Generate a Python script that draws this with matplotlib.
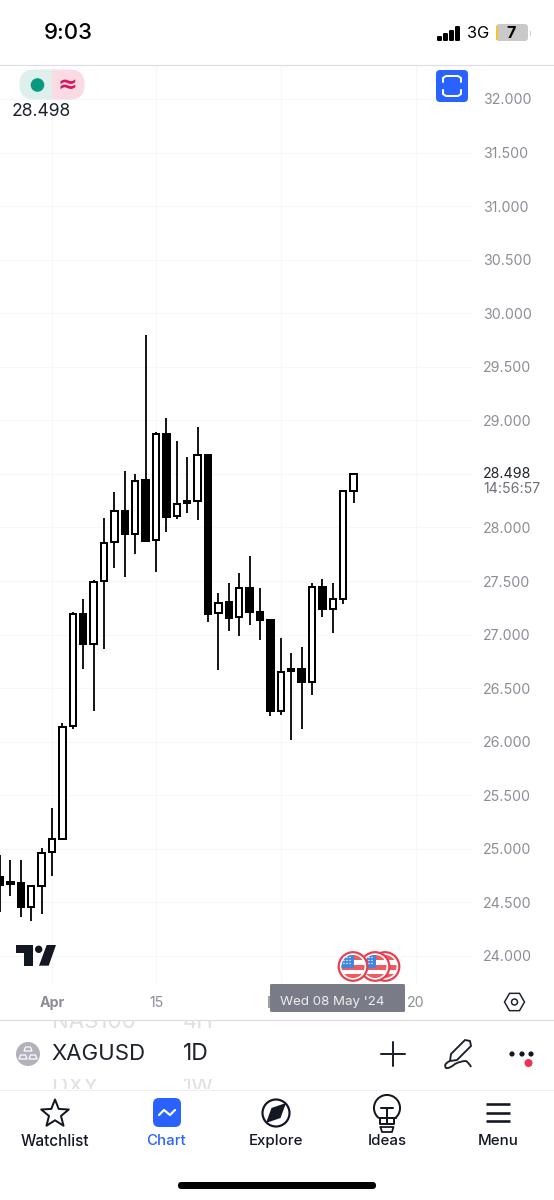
import numpy as np
import matplotlib
matplotlib.use("Agg")
import matplotlib.pyplot as plt
from matplotlib.patches import Circle, Rectangle, FancyBboxPatch, Polygon, PathPatch, Arc
from matplotlib.path import Path

plt.rcParams['font.family'] = ['Inter', 'DejaVu Sans']

# Candles, oldest first (XAGUSD daily)
opens = [24.735, 24.675, 24.679, 24.460, 24.656, 24.968, 25.092, 26.147, 27.190, 26.912,
         27.498, 27.862, 28.157, 27.942, 28.441, 27.881, 28.873, 28.105, 28.225, 28.245,
         28.680, 27.199, 27.302, 27.162, 27.432, 27.214, 27.136, 26.290, 26.660, 26.676,
         26.561, 27.445, 27.242, 27.335, 28.344]
highs = [24.943, 24.893, 24.896, 24.663, 25.008, 25.384, 26.172, 27.210, 27.333, 27.510,
         28.086, 28.329, 28.525, 28.497, 29.800, 28.889, 29.019, 28.803, 28.661, 28.941,
         28.680, 27.386, 27.485, 27.578, 27.734, 27.432, 27.136, 26.971, 26.826, 26.882,
         27.485, 27.522, 27.485, 28.338, 28.498]
lows = [24.408, 24.557, 24.367, 24.330, 24.395, 24.750, 25.083, 26.119, 26.682, 26.290,
        26.869, 27.625, 27.538, 27.755, 27.862, 27.587, 27.955, 28.077, 28.138, 28.070,
        27.121, 26.670, 27.037, 26.987, 27.087, 26.950, 26.243, 26.253, 26.016, 26.122,
        26.436, 27.165, 27.012, 27.289, 28.231]
closes = [24.663, 24.690, 24.460, 24.651, 24.962, 25.089, 26.140, 27.190, 26.912, 27.494,
          27.858, 28.157, 27.939, 28.437, 27.877, 28.870, 28.101, 28.219, 28.245, 28.677,
          27.195, 27.298, 27.158, 27.432, 27.214, 27.136, 26.290, 26.654, 26.680, 26.558,
          27.445, 27.239, 27.330, 28.338, 28.498]

price_ticks = [24.0, 24.5, 25.0, 25.5, 26.0, 26.5, 27.0, 27.5, 28.0, 28.5, 29.0, 29.5, 30.0, 30.5, 31.0, 31.5, 32.0]
price_labels = ['24.000', '24.500', '25.000', '25.500', '26.000', '26.500', '27.000', '27.500', '28.000', '',
                '29.000', '29.500', '30.000', '30.500', '31.000', '31.500', '32.000']
date_ticks = [5, 15, 40]
date_labels = ['Apr', '15', '20']
hidden_month_tick = 27
last_price = 28.498
countdown = '14:56:57'
cursor_date = "Wed 08 May '24"
symbol = 'XAGUSD'
interval = '1D'
tabs = ['Watchlist', 'Chart', 'Explore', 'Ideas', 'Menu']

W, H = 554, 1200
fig = plt.figure(figsize=(W/100, H/100), dpi=100, facecolor='white')
px = 0.72
GRID = '#f7f7f9'
GRAY = '#8b8d96'
DARK = '#1e222d'

# ---------- price chart ----------
top, bottom, right = 66, 985, 472
ax = fig.add_axes([0, 1-bottom/H, right/W, (bottom-top)/H])
ax.set_xlim(0, right/10.4)
ax.set_ylim(32-(bottom-99)/107.125, 32+(99-top)/107.125)
for s in ax.spines.values():
    s.set_visible(False)
ax.set_axisbelow(True)
ax.grid(True, color=GRID, lw=1.1*px)
ax.axvline(hidden_month_tick, color=GRID, lw=1.1*px, zorder=0)
ax.yaxis.tick_right()
ax.set_yticks(price_ticks, price_labels, fontsize=10.2, color=GRAY)
ax.set_xticks(date_ticks, date_labels, fontsize=10.2, color=GRAY)
ax.get_xticklabels()[0].set_fontweight('bold')
ax.tick_params(axis='y', length=0, pad=8)
ax.tick_params(axis='x', length=0, pad=8)

idx = np.arange(len(opens))
o, h, l, c = map(np.array, (opens, highs, lows, closes))
ax.vlines(idx, l, h, color='black', lw=1.8*px, zorder=2)
up = c >= o
base = np.minimum(o, c)
height = np.abs(c-o)
ax.bar(idx[up], height[up], bottom=base[up], width=0.62, facecolor='white', edgecolor='black', lw=2.0*px, zorder=3)
ax.bar(idx[~up], height[~up], bottom=base[~up], width=0.62, facecolor='black', edgecolor='black', lw=2.0*px, zorder=3)

trans = ax.get_yaxis_transform()
ax.text(1+11/right, last_price, f'{last_price:.3f}', transform=trans, fontsize=10.2, color=DARK, va='center', ha='left')
ax.text(1+11/right, last_price-15/107.125, countdown, transform=trans, fontsize=10.2, color='#6f717a', va='center', ha='left')

# ---------- app chrome (pixel coordinates) ----------
ui = fig.add_axes([0, 0, 1, 1], zorder=5)
ui.set_xlim(0, W)
ui.set_ylim(H, 0)
ui.axis('off')
ui.patch.set_alpha(0)

def line(xs, ys, color=DARK, lw=2.0, **k):
    ui.plot(xs, ys, color=color, lw=lw*px, solid_capstyle=k.pop('cap', 'round'), **k)

def rbox(x0, y0, x1, y1, r, color, **k):
    ui.add_patch(FancyBboxPatch((x0+r, y0+r), x1-x0-2*r, y1-y0-2*r,
                                boxstyle=f'round,pad={r},rounding_size={r}', fc=color, ec='none', **k))

def label(x, y, s, size, color=DARK, ha='center', weight='normal', **k):
    return ui.text(x, y, s, fontsize=size, color=color, ha=ha, va='center', fontweight=weight, **k)

# status bar
label(68.5, 33, '9:03', 16, 'black', weight='medium')
for i, (x, t) in enumerate(zip([437, 443, 449, 455], [36, 33, 30, 26])):
    rbox(x, t, x+5, 41, 1.2, 'black')
label(478.5, 34, '3G', 11.8, 'black')
rbox(496, 24, 528, 41, 3, '#c9c9c9')
ui.add_patch(Rectangle((496, 25.5), 2, 14, fc='#f2c62e', ec='none'))
ui.add_patch(Rectangle((530, 31), 1.2, 5, fc='#cccccc', ec='none'))
label(511, 33, '7', 11.5, 'black', weight='bold')
line([0, W], [65, 65], '#dddde6', 1.2)

# status pill
clipbox = FancyBboxPatch((34, 84), 36, 1, boxstyle='round,pad=14.5,rounding_size=14.5', fc='none', ec='none', transform=ui.transData)
ui.add_patch(clipbox)
a = ui.add_patch(Rectangle((18, 68), 34, 34, fc='#dff0ec', ec='none'))
b = ui.add_patch(Rectangle((52, 68), 34, 34, fc='#fadbe4', ec='none'))
a.set_clip_path(clipbox)
b.set_clip_path(clipbox)
ui.add_patch(Circle((37.5, 85), 6.8, fc='#089981', ec='none'))
label(67, 85, '≈', 17, '#d6175f', weight='bold', family=['DejaVu Sans'])
label(12, 112, f'{last_price:.3f}', 12.6, DARK, ha='left')

# blue button
rbox(436, 70, 468, 102, 4, '#2962ff')
line([443, 443, 446, 458, 461, 461], [82, 78, 76, 76, 78, 82], 'white', 2)
line([443, 443, 446, 458, 461, 461], [90, 94, 96, 96, 94, 90], 'white', 2)

# TradingView logo
ui.add_patch(Polygon([(16, 945), (32.7, 945), (32.7, 965.7), (24, 965.7), (24, 953.3), (16, 953.3)], fc='#131722', ec='none'))
ui.add_patch(Circle((38.7, 949.3), 3.7, fc='#131722', ec='none'))
ui.add_patch(Polygon([(46.7, 945), (56, 945), (48.7, 965.7), (39, 965.7)], fc='#131722', ec='none'))

# economic-event flags
def flag(cx, cy, z):
    disc = Circle((cx, cy), 14.3, fc='white', ec='#e5404e', lw=2.2*px, zorder=z)
    ui.add_patch(disc)
    inner = Circle((cx, cy), 11.5, transform=ui.transData)
    for yy, hh, col in [(cy-12, 5.5, '#ee5a5f'), (cy-1.5, 5, '#ee5a5f'), (cy+7, 5.5, '#ee5a5f')]:
        r = ui.add_patch(Rectangle((cx-12, yy), 24, hh, fc=col, ec='none', zorder=z+.1))
        r.set_clip_path(inner)
    r = ui.add_patch(Rectangle((cx-12, cy-12), 12.5, 13, fc='#3f86e0', ec='none', zorder=z+.2))
    r.set_clip_path(inner)
    for dx in (-9, -6, -3):
        for dy in (-9, -6, -3):
            ui.add_patch(Circle((cx+dx, cy+dy), .7, fc='white', ec='none', zorder=z+.3))

flag(385, 966.5, 6)
flag(375, 966.5, 7)
flag(353, 966.5, 8)

# crosshair date tag; a sliver of the month label peeks out to its left
ui.add_patch(Rectangle((267.5, 996), 2.5, 12, fc='#a0a2aa', ec='none'))
rbox(270, 984, 405, 1012, 1.5, '#797b86', zorder=2)
label(280, 1001.5, cursor_date, 9.6, '#eeeef0', ha='left', zorder=3)

# settings hexagon
th = np.radians(np.arange(0, 360, 60))
ui.add_patch(Polygon(np.c_[514.5+10*np.cos(th), 1002+10*np.sin(th)], closed=True, fc='none', ec=DARK, lw=1.5*px))
ui.add_patch(Circle((514.5, 1002), 3, fc='none', ec=DARK, lw=1.5*px))

# symbol row
line([0, W], [1019.5, 1019.5], '#dadae0', 1.2)
line([0, W], [1089.5, 1089.5], '#efeff2', 1.0)
for (x, y, s, cy0, cy1) in [(52, 1022, 'NAS100', 1020, 1030), (183, 1022, '4H', 1020, 1030),
                            (52, 1087, 'DXY', 1079, 1089), (183, 1087, '1W', 1079, 1089)]:
    t = label(x, y, s, 16, '#dfdfe4', ha='left', clip_on=True)
    t.set_clip_path(Rectangle((0, cy0), W, cy1-cy0, transform=ui.transData))
ui.add_patch(Circle((28, 1054), 12, fc='#b3b1bb', ec='none'))
for (x, y) in [(28, 1049), (23, 1057), (33, 1057)]:
    ui.add_patch(Polygon([(x-4, y+2), (x-2.5, y-2), (x+2.5, y-2), (x+4, y+2)], fc='none', ec='white', lw=1.2*px))
label(51, 1054, symbol, 16, DARK, ha='left')
label(183, 1054, interval, 16.5, DARK, ha='left')
line([381, 405], [1054, 1054], DARK, 2)
line([393, 393], [1042, 1066], DARK, 2)
# pen
ui.add_patch(Polygon([(465, 1040), (470, 1041), (471, 1046), (457, 1060), (450, 1061), (451, 1054)], closed=True, fc='none', ec=DARK, lw=1.9*px, joinstyle='round'))
ui.add_patch(PathPatch(Path([(450, 1061), (443, 1064), (446, 1068), (449, 1069), (455, 1064), (460, 1061), (466, 1061), (470, 1064), (471, 1067)],
                            [Path.MOVETO] + [Path.CURVE3]*8),
                       fc='none', ec=DARK, lw=1.9*px))
for x in (512, 522, 531):
    ui.add_patch(Circle((x, 1054), 2.6, fc='#131722', ec='none'))
ui.add_patch(Circle((528.5, 1063), 4, fc='#f23050', ec='none'))

# tab bar icons
ICON = '#131722'
ang = np.radians(-90+36*np.arange(10))
rad = np.where(np.arange(10) % 2 == 0, 14.5, 6.3)
ui.add_patch(Polygon(np.c_[55+rad*np.cos(ang), 1114+rad*np.sin(ang)], closed=True, fc='none', ec=ICON, lw=2*px, joinstyle='round'))
rbox(153, 1098, 181, 1127, 6, '#2962ff')
line([159, 164, 170, 175], [1115, 1110, 1115, 1110], 'white', 2.2)
ui.add_patch(Circle((276, 1113), 13.5, fc='none', ec=ICON, lw=2.2*px))
ui.add_patch(Polygon([(286, 1103), (280.5, 1118), (266, 1123), (271.5, 1108)], fc=ICON, ec='none'))
ui.add_patch(Arc((387, 1108), 26, 26, angle=0, theta1=130, theta2=50, ec=ICON, lw=2*px))
line([378.5, 395.5], [1118, 1118], ICON, 2)
line([380, 380, 394, 394], [1118, 1124, 1124, 1118], ICON, 2)
line([380.5, 382, 392, 393.5, 380.5], [1127, 1132, 1132, 1127, 1127], ICON, 1.8)
line([381, 393], [1108, 1108], ICON, 2)
line([387, 387], [1108, 1124], ICON, 2)
for y in (1104, 1112.5, 1121):
    line([486, 510], [y, y], ICON, 2.6, cap='butt')

for x, name, sz in zip([55, 166, 276, 387, 498], tabs, [11, 10.8, 10.8, 10.8, 10.8]):
    label(x, 1141, name, sz, '#2962ff' if name == 'Chart' else ICON, weight='medium')

# home indicator
rbox(178, 1182, 376, 1189, 3.4, 'black')

fig.savefig('out.png', dpi=100, facecolor='white')
